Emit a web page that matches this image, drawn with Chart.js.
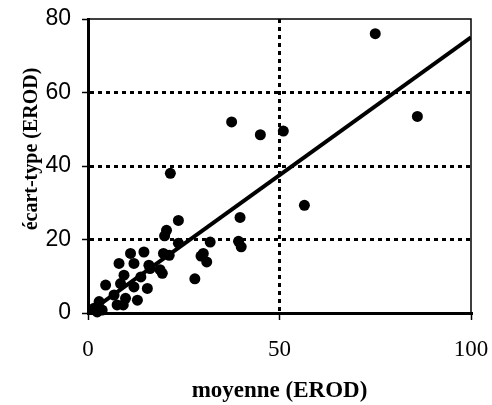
<!DOCTYPE html>
<html>
<head>
<meta charset="utf-8">
<script src="https://cdn.jsdelivr.net/npm/chart.js@4"></script>
<style>
  html, body { margin: 0; padding: 0; background: #fff; }
  #wrap { width: 492px; height: 405px; }
</style>
</head>
<body>
<div id="wrap"><canvas id="myChart"></canvas></div>
<script>
// moyenne vs écart-type (EROD)
const moyenne = [75, 86, 37.5, 45, 51, 21.5, 56.5, 39.7, 39.3, 40,
  23.6, 20.5, 20, 23.6, 19.7, 21.2, 31.9, 30.1, 31, 29.5, 27.9, 19.4, 18.8, 16.2,
  11.1, 14.6, 8.1, 12, 15.9, 9.4, 13.8, 4.6, 8.5, 12, 15.5, 6.8, 9.8, 12.9,
  2.9, 1.6, 3.7, 2.4, 7.6, 9.2];
const ecartType = [76, 53.5, 52, 48.5, 49.5, 38, 29.3, 26, 19.5, 18,
  25.2, 22.5, 21, 19, 16.2, 15.7, 19.3, 16.2, 13.9, 15.5, 9.3, 10.8, 11.8, 12.1,
  16.2, 16.6, 13.5, 13.5, 13, 10.3, 9.8, 7.6, 8, 7.1, 6.7, 4.9, 4, 3.5,
  3.1, 1.3, 0.8, 0.3, 2.2, 2.2];
const droiteX = [0, 100];
const droiteY = [0, 75];
const xTicks = [0, 50, 100];
const yTicks = [0, 20, 40, 60, 80];

const serif = "'Liberation Serif', 'Times New Roman', serif";
const sans = "'Liberation Sans', Arial, sans-serif";

const points = moyenne.map((m, i) => ({ x: m, y: ecartType[i] }));
const droite = droiteX.map((x, i) => ({ x: x, y: droiteY[i] }));

// cadre haut/droite + titre de l'axe y
const cadre = {
  id: 'cadre',
  afterDraw(chart) {
    const { ctx, chartArea } = chart;
    ctx.save();
    ctx.strokeStyle = '#000';
    ctx.lineWidth = 1.5;
    ctx.beginPath();
    ctx.moveTo(chartArea.left, chartArea.top);
    ctx.lineTo(chartArea.right, chartArea.top);
    ctx.lineTo(chartArea.right, chartArea.bottom);
    ctx.stroke();

    ctx.translate(32, 149);
    ctx.rotate(-Math.PI / 2);
    ctx.fillStyle = '#000';
    ctx.font = 'bold 20px ' + serif;
    ctx.textAlign = 'center';
    ctx.textBaseline = 'middle';
    ctx.fillText('écart-type (EROD)', 0, 0);
    ctx.restore();
  }
};

const ctx = document.getElementById('myChart');

new Chart(ctx, {
  type: 'scatter',
  data: {
    datasets: [{
      type: 'line',
      data: droite,
      borderColor: '#000',
      borderWidth: 4,
      pointRadius: 0,
      fill: false
    }, {
      data: points,
      backgroundColor: '#000',
      borderWidth: 0,
      pointRadius: 5.5,
      clip: false
    }]
  },
  options: {
    responsive: true,
    maintainAspectRatio: false,
    animation: false,
    layout: { padding: { top: 19, right: 21, left: 0, bottom: 0 } },
    plugins: {
      legend: { display: false },
      tooltip: { enabled: false }
    },
    scales: {
      x: {
        type: 'linear',
        min: 0,
        max: 100,
        afterBuildTicks: s => { s.ticks = xTicks.map(v => ({ value: v })); },
        afterFit: s => { s.height = 92; s.paddingLeft = 0; s.paddingRight = 0; },
        ticks: { color: '#000', font: { family: serif, size: 23 }, padding: 16, maxRotation: 0 },
        grid: {
          color: c => (c.tick && c.tick.value === 50) ? '#000' : 'rgba(0,0,0,0)',
          lineWidth: 3,
          tickColor: '#000',
          tickWidth: 1.5,
          tickLength: 7,
          tickBorderDash: []
        },
        border: { color: '#000', width: 3, dash: [4, 4] },
        title: {
          display: true,
          text: 'moyenne (EROD)',
          color: '#000',
          font: { family: serif, size: 23, weight: 'bold' },
          padding: { top: 0, bottom: 0 }
        }
      },
      y: {
        min: 0,
        max: 80,
        afterBuildTicks: s => { s.ticks = yTicks.map(v => ({ value: v })); },
        afterFit: s => { s.width = 88; s.paddingTop = 0; s.paddingBottom = 0; },
        ticks: { color: '#000', font: { family: sans, size: 23 }, padding: 11 },
        grid: {
          color: c => (c.tick && [20, 40, 60].includes(c.tick.value)) ? '#000' : 'rgba(0,0,0,0)',
          lineWidth: 3,
          tickColor: '#000',
          tickWidth: 1.5,
          tickLength: 6,
          tickBorderDash: []
        },
        border: { color: '#000', width: 3, dash: [4, 4] }
      }
    }
  },
  plugins: [cadre]
});
</script>
</body>
</html>
